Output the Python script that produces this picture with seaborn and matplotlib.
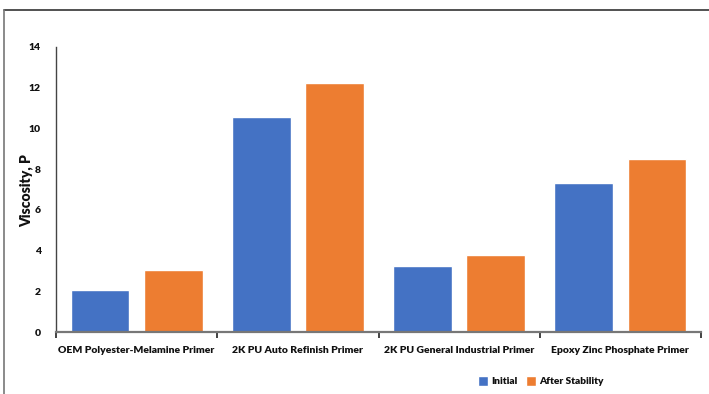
import matplotlib
matplotlib.use("Agg")
import matplotlib.pyplot as plt
from matplotlib.lines import Line2D
import seaborn as sns
import pandas as pd

categories = ["OEM Polyester-Melamine Primer", "2K PU Auto Refinish Primer",
              "2K PU General Industrial Primer", "Epoxy Zinc Phosphate Primer"]
initial = [2.05, 10.56, 3.26, 7.30]
after_stability = [3.05, 12.25, 3.77, 8.48]
series = ["Initial", "After Stability"]
yticks = [0, 2, 4, 6, 8, 10, 12, 14]

df = pd.DataFrame({
    "Primer": categories * 2,
    "Viscosity": initial + after_stability,
    "Series": [series[0]] * 4 + [series[1]] * 4,
})

sns.set_style("white")
plt.rcParams['font.family'] = ['Lato', 'DejaVu Sans']

W = "heavy"
fig = plt.figure(figsize=(7.09, 3.94), dpi=100)
ax = fig.add_axes([56/709, 1 - 332/394, 645/709, 285/394])

sns.barplot(data=df, x="Primer", y="Viscosity", hue="Series", order=categories,
            hue_order=series, palette=["#4472C4", "#ED7D31"], width=0.91, gap=0.2,
            saturation=1, ax=ax, legend=True)

ax.set_xlim(-0.5, 3.5)
ax.set_ylim(0, 14)
ax.set_yticks(yticks)
ax.set_yticklabels([str(v) for v in yticks], fontweight=W, fontsize=7.5, color="#111111")
ax.set_xticks(range(4))
ax.set_xticklabels(categories, fontweight=W, fontsize=7.5, color="#111111")
ax.set_xticks([-0.5, 0.5, 1.5, 2.5, 3.5], minor=True)
ax.tick_params(axis="x", which="major", length=0, pad=10)
ax.tick_params(axis="x", which="minor", bottom=True, length=4, width=1.2,
               color="#222222", direction="out")
ax.tick_params(axis="y", length=0, pad=11)
ax.set_xlabel("")
ax.set_ylabel("Viscosity, P", fontweight=W, fontsize=10, color="#111111")
ax.yaxis.set_label_coords((33 - 56) / 645, (332 - 191) / 285)

for s in ["top", "right"]:
    ax.spines[s].set_visible(False)
ax.spines["left"].set_color("#444444")
ax.spines["left"].set_linewidth(1.0)
ax.spines["bottom"].set_color("#777777")
ax.spines["bottom"].set_linewidth(1.6)

leg = ax.legend(loc="center", bbox_to_anchor=(541/709, 1 - 381/394),
                bbox_transform=fig.transFigure, ncol=2, frameon=False,
                handlelength=1.0, handleheight=1.1, handletextpad=0.35,
                columnspacing=0.8, prop={"weight": W, "size": 7.3})
for t in leg.get_texts():
    t.set_color("#111111")

fig.add_artist(Line2D([4/709, 1.0], [1 - 10/394, 1 - 10/394], transform=fig.transFigure,
                      color="#333333", linewidth=1.2))
fig.add_artist(Line2D([4/709, 4/709], [1 - 10/394, 0.0], transform=fig.transFigure,
                      color="#777777", linewidth=1.2))

fig.savefig("out.png", dpi=100)
